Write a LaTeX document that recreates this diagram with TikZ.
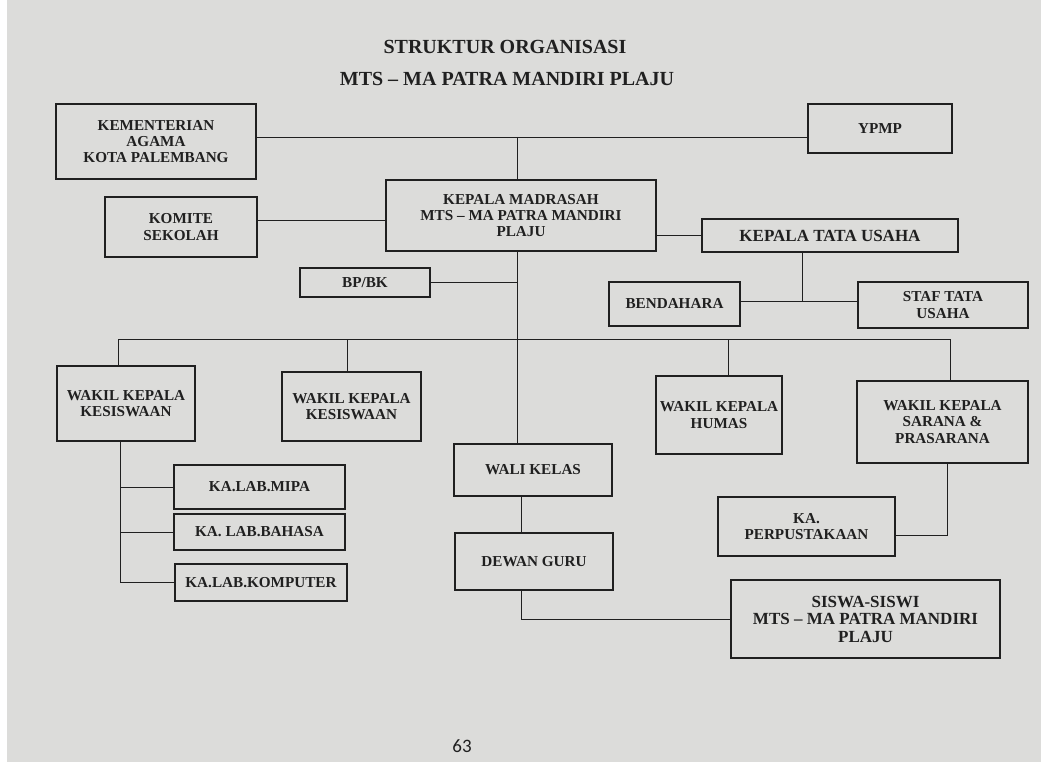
\documentclass[tikz,border=0pt]{standalone}
\usepackage{fontspec}
\setmainfont{Liberation Serif}
\newfontfamily\pagefont{Carlito}
\definecolor{paper}{RGB}{220,220,218}
\definecolor{ink}{RGB}{32,32,32}
\begin{document}
\begin{tikzpicture}[x=1pt,y=-1pt,
  box/.style={draw=ink, line width=1.1pt, align=center, inner sep=0pt, text=ink,
    font=\fontsize{15.2}{16.2}\selectfont\bfseries},
  bigbox/.style={box, font=\fontsize{17}{17.5}\selectfont\bfseries},
  link/.style={draw=ink, line width=0.9pt},
  titletext/.style={text=ink, font=\fontsize{20}{22}\selectfont\bfseries}]
\fill[paper] (0,0) rectangle (1041,767);
\fill[white] (0,0) rectangle (7,767);
\fill[white] (0,762) rectangle (1041,767);
\useasboundingbox (0,0) rectangle (1041,767);

% titles
\node[titletext] (title1) at (505,47) {STRUKTUR ORGANISASI};
\node[titletext] (title2) at (507,79) {MTS -- MA PATRA MANDIRI PLAJU};

% boxes
\node[box, minimum width=200pt, minimum height=75pt] (kem) at (156,141.5) {KEMENTERIAN\\AGAMA\\KOTA PALEMBANG};
\node[box, minimum width=144pt, minimum height=49pt] (ypmp) at (880,128.5) {YPMP};
\node[box, minimum width=270pt, minimum height=71pt] (kep) at (521,215.5) {KEPALA MADRASAH\\MTS -- MA PATRA MANDIRI\\PLAJU};
\node[box, minimum width=152pt, minimum height=60pt] (kom) at (181,227) {KOMITE\\SEKOLAH};
\node[bigbox, minimum width=256pt, minimum height=33pt] (ktu) at (830,235.5) {KEPALA TATA USAHA};
\node[box, minimum width=131pt, minimum height=44pt] (bend) at (674.5,304) {BENDAHARA};
\node[box, minimum width=170pt, minimum height=46pt] (staf) at (943,305) {STAF TATA\\USAHA};
\node[box, minimum width=130pt, minimum height=29pt] (bpbk) at (365,282.5) {BP/BK};
\node[box, minimum width=138pt, minimum height=75pt] (wk1) at (126,403.5) {WAKIL KEPALA\\KESISWAAN};
\node[box, minimum width=139pt, minimum height=69pt] (wk2) at (351.5,406.5) {WAKIL KEPALA\\KESISWAAN};
\node[box, minimum width=126pt, minimum height=78pt] (humas) at (719,415) {WAKIL KEPALA\\HUMAS};
\node[box, minimum width=171pt, minimum height=82pt] (sarana) at (942.5,422) {WAKIL KEPALA\\SARANA \&\\PRASARANA};
\node[box, minimum width=158pt, minimum height=52pt] (wali) at (533,470) {WALI KELAS};
\node[box, minimum width=158pt, minimum height=57pt] (dewan) at (534,561.5) {DEWAN GURU};
\node[bigbox, minimum width=269pt, minimum height=78pt] (siswa) at (865.5,619) {SISWA-SISWI\\MTS -- MA PATRA MANDIRI\\PLAJU};
\node[box, minimum width=177pt, minimum height=59pt] (perp) at (806.5,526.5) {KA.\\PERPUSTAKAAN};
\node[box, minimum width=171pt, minimum height=44pt] (mipa) at (259.5,487) {KA.LAB.MIPA};
\node[box, minimum width=171pt, minimum height=36pt] (bahasa) at (259.5,532) {KA. LAB.BAHASA};
\node[box, minimum width=172pt, minimum height=37pt] (komp) at (261,582.5) {KA.LAB.KOMPUTER};

% page number
\node[text=ink, font=\pagefont\fontsize{19}{22}\selectfont] (pg) at (462,746) {63};

% helper coordinates
\coordinate (t) at (517,137);
\coordinate (kl) at (0,220);
\coordinate (tu) at (802,301);
\coordinate (b1) at (118,339);
\coordinate (b2) at (347,339);
\coordinate (b3) at (728,339);
\coordinate (b4) at (950,339);
\coordinate (wd) at (521,0);
\coordinate (sp) at (947,535);
\coordinate (lv) at (120,0);

% connectors
\draw[link] (kem.east |- t) -- (ypmp.west |- t);
\draw[link] (t) -- (t |- kep.north);
\draw[link] (kom.east |- kl) -- (kep.west |- kl);
\draw[link] (kep.east |- ktu.west) -- (ktu.west);
\draw[link] (ktu.south -| tu) -- (tu);
\draw[link] (bend.east |- tu) -- (staf.west |- tu);
\draw[link] (bpbk.east) -- (bpbk.east -| t);
\draw[link] (kep.south -| t) -- (wali.north -| t);
\draw[link] (b1) -- (b4);
\draw[link] (b1) -- (b1 |- wk1.north);
\draw[link] (b2) -- (b2 |- wk2.north);
\draw[link] (b3) -- (b3 |- humas.north);
\draw[link] (b4) -- (b4 |- sarana.north);
\draw[link] (wd |- wali.south) -- (wd |- dewan.north);
\draw[link] (wd |- dewan.south) |- (siswa.west);
\draw[link] (sp |- sarana.south) |- (perp.east |- sp);
\draw[link] (lv |- wk1.south) |- (komp.west);
\draw[link] (lv |- mipa.west) -- (mipa.west);
\draw[link] (lv |- bahasa.west) -- (bahasa.west);
\end{tikzpicture}
\end{document}
